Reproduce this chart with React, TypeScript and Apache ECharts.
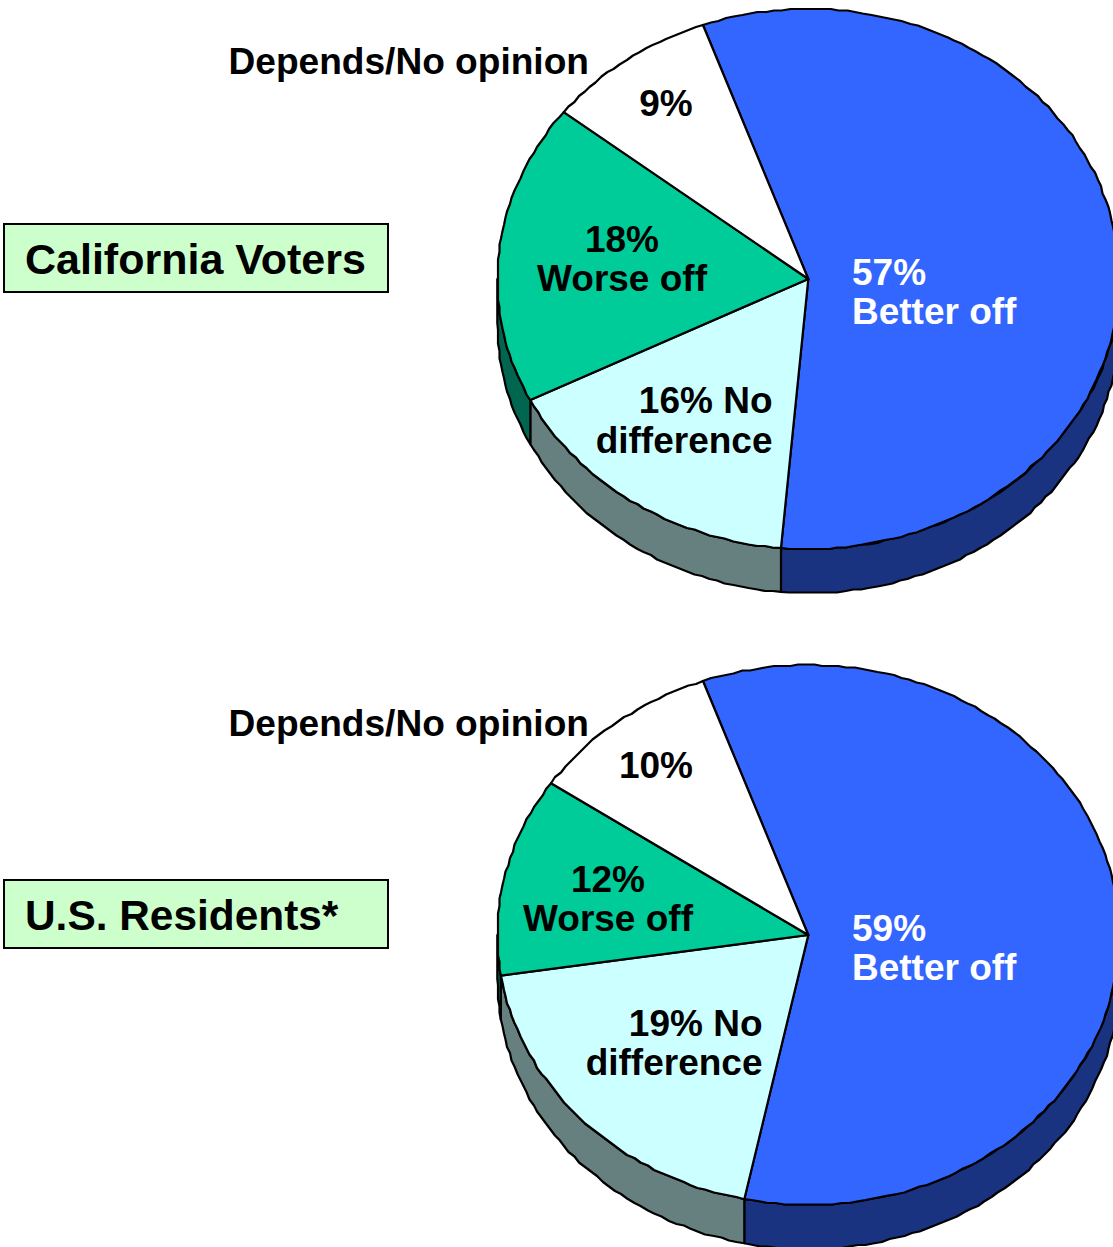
import React, { useEffect, useRef } from "react";
import * as echarts from "echarts";

const sliceNames = ["Better off", "No difference", "Worse off", "Depends/No opinion"];
const californiaValues = [56.9, 16.2, 18, 8.9];
const usValues = [58.8, 19.3, 11.9, 10];
const californiaLabels = ["57%\nBetter off", "16% No\ndifference", "18%\nWorse off", "9%"];
const usLabels = ["59%\nBetter off", "19% No\ndifference", "12%\nWorse off", "10%"];
const groupTitles = ["California Voters", "U.S. Residents*"];
const outsideLabel = "Depends/No opinion";

const topColors = ["#3366FF", "#CCFFFF", "#00CC99", "#FFFFFF"];
const sideColors = ["#1A3380", "#668080", "#006650", "#808080"];
const textColors = ["#FFFFFF", "#000000", "#000000", "#000000"];
const FONT = '"Liberation Sans", Arial, sans-serif';
const W = 1113;
const H = 1247;
const RX = 311;
const RY = 270;
const DEPTH = 44;
const START_DEG = -19.8;
const CX = 808.3;
const GRID = 1.5;

type Lbl = { x: number; y: number; align: string; lh: number };

const californiaLayout: Lbl[] = [
  { x: 852, y: 291.5, align: "left", lh: 39 },
  { x: 772.5, y: 420, align: "right", lh: 40 },
  { x: 622, y: 258.5, align: "center", lh: 39 },
  { x: 666, y: 103, align: "center", lh: 40 },
];
const usLayout: Lbl[] = [
  { x: 852, y: 947.5, align: "left", lh: 39 },
  { x: 762.5, y: 1042.5, align: "right", lh: 39 },
  { x: 608, y: 898.5, align: "center", lh: 39 },
  { x: 656, y: 765, align: "center", lh: 40 },
];

function pt(cy: number, deg: number, dy = 0): number[] {
  const r = (deg * Math.PI) / 180;
  return [CX + RX * Math.sin(r), cy - RY * Math.cos(r) + dy];
}

// The source image is an old, coarsely plotted drawing: arcs are snapped to a
// small grid so that the outline has the same slight waver.
function arc(cy: number, a0: number, a1: number, dy = 0): number[][] {
  const n = Math.max(2, Math.ceil(Math.abs(a1 - a0) / 1.5));
  const out: number[][] = [];
  for (let i = 0; i <= n; i++) {
    const p = pt(cy, a0 + ((a1 - a0) * i) / n, dy);
    out.push(i === 0 || i === n ? p : [Math.round(p[0] / GRID) * GRID, Math.round(p[1] / GRID) * GRID]);
  }
  return out;
}

function pieSeries(values: number[], labels: string[], layout: Lbl[], cy: number) {
  const total = values.reduce((a, b) => a + b, 0);
  const starts: number[] = [];
  let acc = START_DEG;
  values.forEach((v) => {
    starts.push(acc);
    acc += (v / total) * 360;
  });
  const line = { stroke: "#000", lineWidth: 2.2, lineJoin: "round" };
  return [
    // rims first, so that the faces cover them
    {
      type: "custom",
      coordinateSystem: "none",
      silent: true,
      z: 2,
      data: values.map((v, i) => ({ name: sliceNames[i], value: [v, i] })),
      renderItem: (_: any, api: any) => {
        const i = api.value(1);
        const a0 = starts[i];
        const a1 = a0 + (api.value(0) / total) * 360;
        const from = Math.max(a0, 90);
        const to = Math.min(a1, 270);
        if (to <= from) return { type: "group", children: [] };
        const points = [...arc(cy, from, to), ...arc(cy, to, from, DEPTH)];
        return {
          type: "polygon",
          shape: { points },
          style: { fill: sideColors[i], ...line },
        };
      },
    },
    {
      type: "custom",
      coordinateSystem: "none",
      silent: true,
      z: 3,
      data: values.map((v, i) => ({ name: sliceNames[i], value: [v, i] })),
      renderItem: (_: any, api: any) => {
        const i = api.value(1);
        const a0 = starts[i];
        const a1 = a0 + (api.value(0) / total) * 360;
        const points = [[CX, cy], ...arc(cy, a0, a1)];
        return {
          type: "group",
          children: [
            { type: "polygon", shape: { points }, style: { fill: topColors[i], ...line } },
            {
              type: "text",
              z2: 10,
              style: {
                x: layout[i].x,
                y: layout[i].y,
                text: labels[i],
                fill: textColors[i],
                font: `bold 37px ${FONT}`,
                lineHeight: layout[i].lh,
                align: layout[i].align,
                verticalAlign: "middle",
              },
            },
          ],
        };
      },
    },
  ];
}

function box(y: number, title: string, size: number) {
  return [
    {
      type: "rect",
      z: 5,
      shape: { x: 4, y, width: 384, height: 68 },
      style: { fill: "#CCFFCC", stroke: "#000", lineWidth: 2 },
    },
    {
      type: "text",
      z: 6,
      style: {
        x: 25,
        y: y + 35,
        text: title,
        fill: "#000",
        font: `bold ${size}px ${FONT}`,
        verticalAlign: "middle",
      },
    },
  ];
}

function outside(y: number) {
  return {
    type: "text",
    z: 6,
    style: {
      x: 228.5,
      y,
      text: outsideLabel,
      fill: "#000",
      font: `bold 37.1px ${FONT}`,
      verticalAlign: "middle",
    },
  };
}

export default function App() {
  const ref = useRef<HTMLDivElement>(null);
  useEffect(() => {
    document.body.style.margin = "0";
    const chart = echarts.init(ref.current!, undefined, { renderer: "svg" });
    chart.setOption({
      animation: false,
      backgroundColor: "#fff",
      series: [
        ...pieSeries(californiaValues, californiaLabels, californiaLayout, 279),
        ...pieSeries(usValues, usLabels, usLayout, 935),
      ],
      graphic: [
        ...box(224, groupTitles[0], 43),
        ...box(880, groupTitles[1], 42.4),
        outside(61),
        outside(723),
      ],
    });
    return () => chart.dispose();
  }, []);
  return <div ref={ref} style={{ width: W, height: H }} />;
}
